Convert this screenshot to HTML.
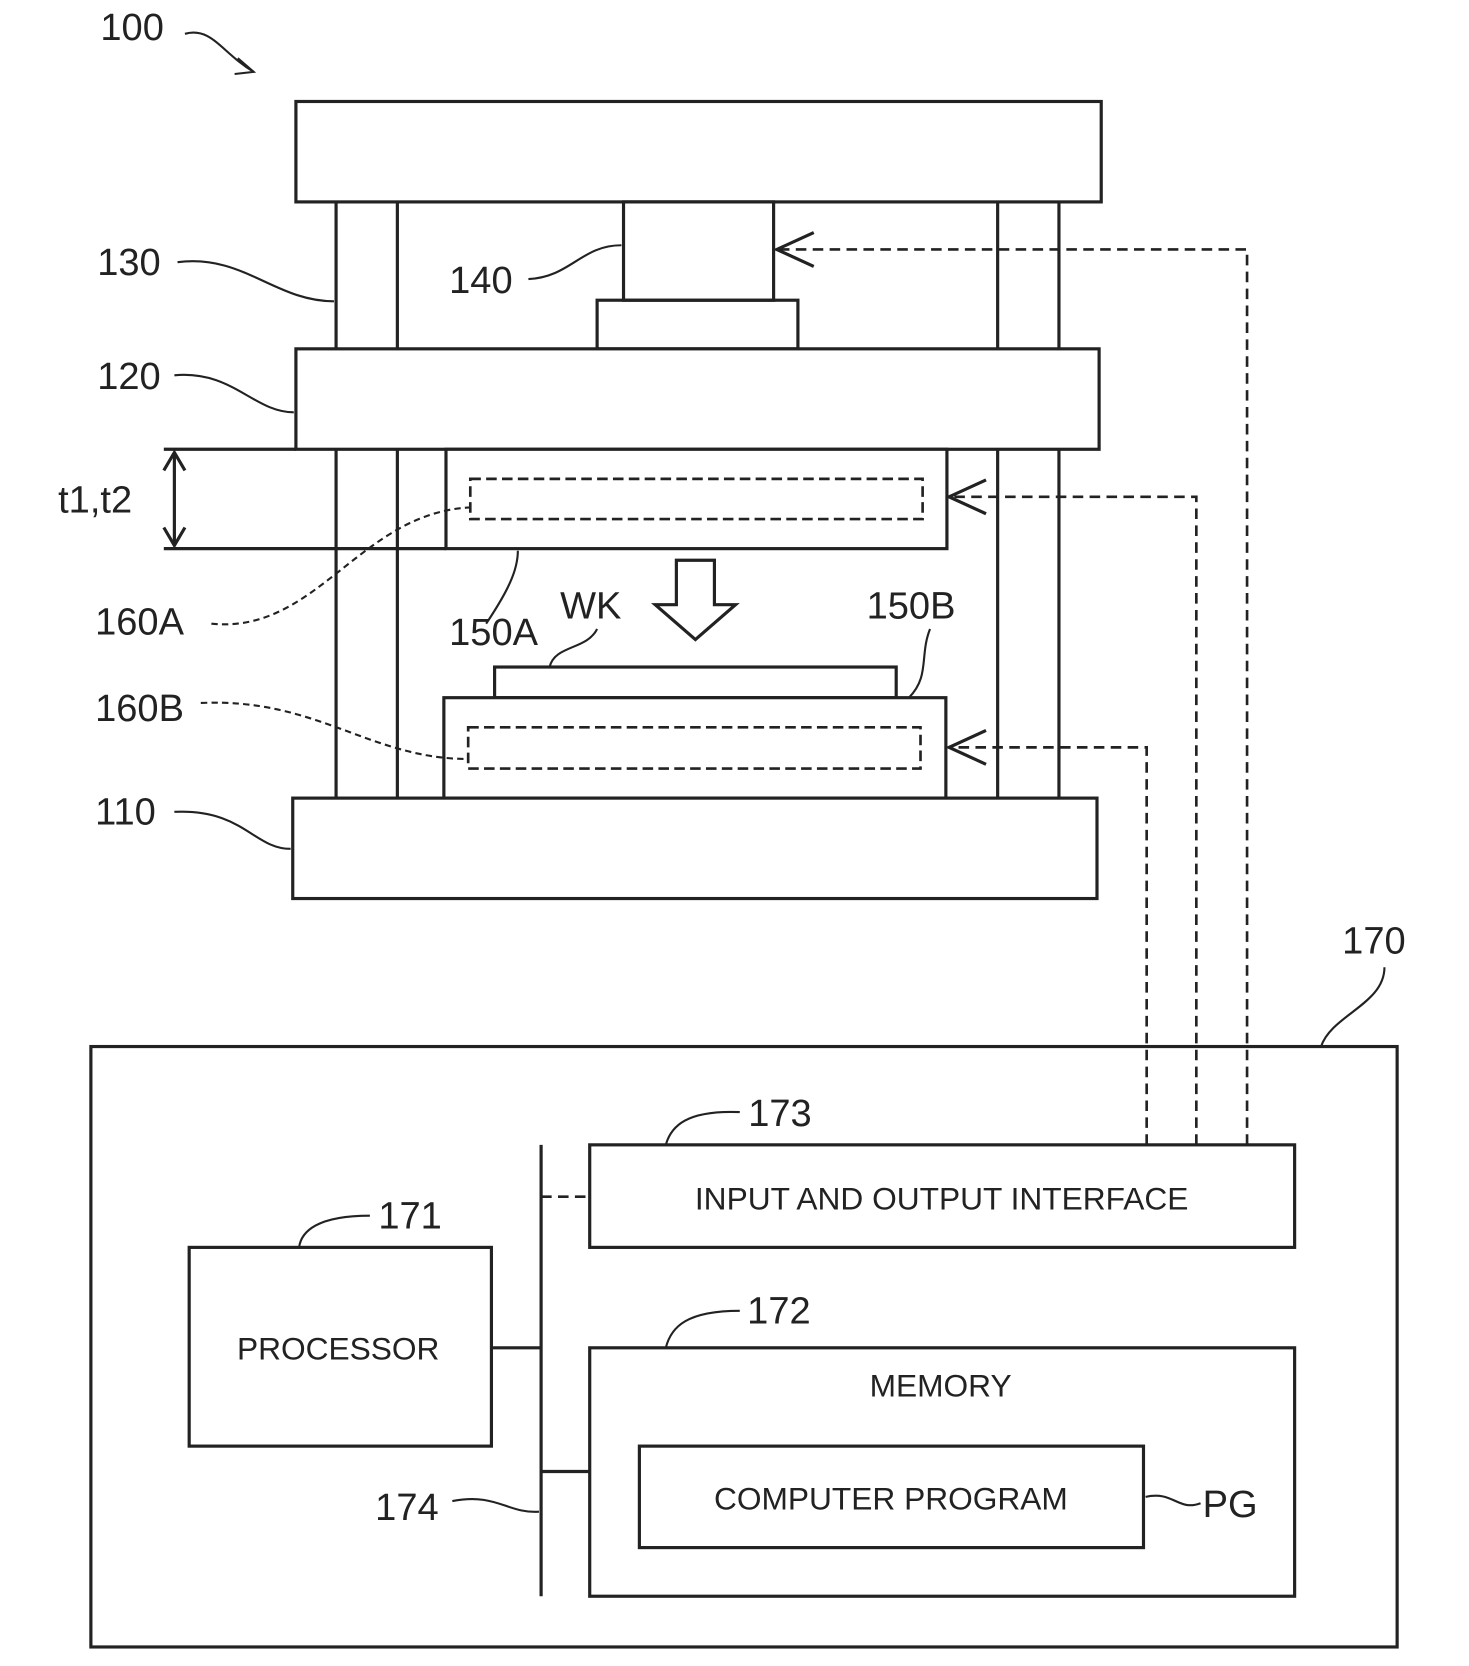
<!DOCTYPE html>
<html><head><style>html,body{margin:0;padding:0;background:#fff}svg{display:block}</style></head><body>
<svg width="1469" height="1666" viewBox="0 0 1390 1576" preserveAspectRatio="none" xmlns="http://www.w3.org/2000/svg" font-family="Liberation Sans, sans-serif">
<g fill="none" stroke="#222" stroke-width="3">
<rect x="280" y="96" width="762" height="95"/>
<line x1="318" y1="191" x2="318" y2="330"/><line x1="376" y1="191" x2="376" y2="330"/>
<line x1="944" y1="191" x2="944" y2="330"/><line x1="1002" y1="191" x2="1002" y2="330"/>
<line x1="318" y1="425" x2="318" y2="755"/><line x1="376" y1="425" x2="376" y2="755"/>
<line x1="944" y1="425" x2="944" y2="755"/><line x1="1002" y1="425" x2="1002" y2="755"/>
<rect x="590" y="191" width="142" height="93"/>
<rect x="565" y="284" width="190" height="46"/>
<rect x="280" y="330" width="760" height="95" fill="#fff"/>
<rect x="422" y="425" width="474" height="94" fill="#fff"/>
<rect x="445" y="453" width="428" height="38" stroke-dasharray="10,5" stroke-width="2.5"/>
<line x1="155" y1="425" x2="280" y2="425"/><line x1="155" y1="519" x2="422" y2="519"/>
<line x1="165" y1="428" x2="165" y2="516"/>
<polyline points="155,445 165,428 175,445"/><polyline points="155,499 165,516 175,499"/>
<polygon points="640,530 676,530 676,572 696,572 658,605 620,572 640,572"/>
<rect x="468" y="631" width="380" height="29"/>
<rect x="420" y="660" width="475" height="95" fill="#fff"/>
<rect x="443" y="688" width="428" height="39" stroke-dasharray="10,5" stroke-width="2.5"/>
<rect x="277" y="755" width="761" height="95" fill="#fff"/>
<g stroke-dasharray="10,6" stroke-width="2.5">
<polyline points="1180,1083 1180,236 738,236"/>
<polyline points="1132,1083 1132,470 900,470"/>
<polyline points="1085,1083 1085,707 900,707"/>
<line x1="512" y1="1132" x2="558" y2="1132"/>
</g>
<polyline points="770,220 735,236 770,252"/>
<polyline points="933,454 898,470 933,486"/>
<polyline points="933,691 898,707 933,723"/>
<rect x="86" y="990" width="1236" height="568"/>
<rect x="558" y="1083" width="667" height="97"/>
<rect x="179" y="1180" width="286" height="188"/>
<rect x="558" y="1275" width="667" height="235"/>
<rect x="605" y="1368" width="477" height="96"/>
<line x1="512" y1="1083" x2="512" y2="1510"/>
<line x1="465" y1="1275" x2="512" y2="1275"/>
<line x1="512" y1="1392" x2="558" y2="1392"/>
<g stroke-width="2">
<path d="M175,32 C200,25 210,50 240,68"/><polyline points="225,55 240,68 222,70"/>
<path d="M168,248 C230,240 260,285 316,285"/>
<path d="M500,264 C540,262 550,232 588,232"/>
<path d="M165,355 C220,350 240,390 278,390"/>
<path d="M200,590 C300,600 340,485 445,480" stroke-dasharray="6,4"/>
<path d="M460,590 C480,560 490,540 490,521"/>
<path d="M520,631 C525,610 555,615 565,595"/>
<path d="M860,660 C880,640 870,620 880,595"/>
<path d="M190,665 C300,660 350,718 443,718" stroke-dasharray="6,4"/>
<path d="M165,768 C230,765 240,803 275,803"/>
<path d="M1310,915 C1310,950 1260,960 1250,990"/>
<path d="M700,1052 C650,1050 635,1065 630,1083"/>
<path d="M350,1150 C300,1150 285,1165 283,1180"/>
<path d="M700,1240 C650,1240 635,1255 630,1275"/>
<path d="M428,1420 C470,1412 480,1432 510,1430"/>
<path d="M1084,1416 C1110,1410 1115,1430 1136,1422"/>
</g>
</g>
<g font-size="36" fill="#222">
<text x="95" y="38">100</text>
<text x="92" y="260">130</text>
<text x="425" y="277">140</text>
<text x="92" y="368">120</text>
<text x="55" y="485">t1,t2</text>
<text x="90" y="600">160A</text>
<text x="425" y="610">150A</text>
<text x="530" y="585">WK</text>
<text x="820" y="585">150B</text>
<text x="90" y="682">160B</text>
<text x="90" y="780">110</text>
<text x="1270" y="902">170</text>
<text x="708" y="1065">173</text>
<text x="358" y="1162">171</text>
<text x="707" y="1252">172</text>
<text x="355" y="1438">174</text>
<text x="1138" y="1435">PG</text>
</g>
<g font-size="30" fill="#222" text-anchor="middle">
<text x="891" y="1144">INPUT AND OUTPUT INTERFACE</text>
<text x="320" y="1286">PROCESSOR</text>
<text x="890" y="1321">MEMORY</text>
<text x="843" y="1428">COMPUTER PROGRAM</text>
</g>
</svg>
</body></html>
